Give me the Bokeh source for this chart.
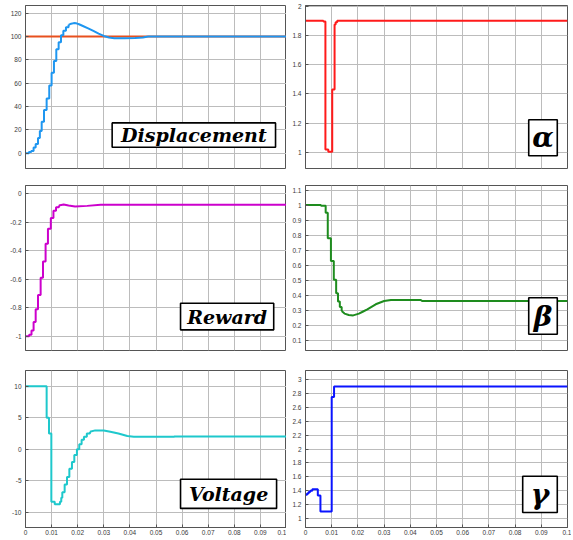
from bokeh.plotting import figure
from bokeh.layouts import column, row
from bokeh.models import FixedTicker, BoxAnnotation, Label, Range1d
from bokeh.embed import file_html
from bokeh.resources import INLINE

# ---------------- data ----------------
x_ticks = [0, 0.01, 0.02, 0.03, 0.04, 0.05, 0.06, 0.07, 0.08, 0.09, 0.1]
x_tick_labels = ["0", "0.01", "0.02", "0.03", "0.04", "0.05", "0.06", "0.07", "0.08", "0.09", "0.1"]

# displacement (stepped until index disp_k, smooth afterwards)
disp_t = [0, 0.0013, 0.0022, 0.0031, 0.0039, 0.0048, 0.0055, 0.0062, 0.0071, 0.0081, 0.0091,
          0.0100, 0.0109, 0.0118, 0.0127, 0.0136, 0.0145, 0.0155, 0.0165, 0.0175, 0.0185,
          0.0195, 0.0205, 0.022, 0.024, 0.026, 0.028, 0.030, 0.032, 0.034, 0.038, 0.042,
          0.045, 0.047, 0.1]
disp_v = [0, 1, 2, 5, 8, 13, 19, 27, 37, 47, 58, 69, 79, 89, 95, 101, 105, 108, 110, 111,
          111.5, 111.3, 110.5, 109, 107, 104.8, 102.5, 100.5, 99.2, 98.6, 98.5, 98.8,
          99.2, 100, 100]
disp_k = 18
ref_t = [0, 0.1]
ref_v = [100, 100]
disp_yticks = [0, 20, 40, 60, 80, 100, 120]
disp_ylabels = ["0", "20", "40", "60", "80", "100", "120"]

alpha_t = [0, 0.0068, 0.0076, 0.0087, 0.0102, 0.0111, 0.0115, 0.0121, 0.1]
alpha_v = [1.9, 1.895, 1.02, 1.005, 1.43, 1.875, 1.89, 1.9, 1.9]
alpha_yticks = [1, 1.2, 1.4, 1.6, 1.8, 2]
alpha_ylabels = ["1", "1.2", "1.4", "1.6", "1.8", "2"]

rew_t = [0, 0.0014, 0.0023, 0.0031, 0.0039, 0.0048, 0.0058, 0.0067, 0.0077, 0.0086, 0.0097,
         0.0107, 0.0117, 0.0128, 0.0146, 0.0165, 0.019, 0.0236, 0.0288, 0.1]
rew_v = [-1.0, -0.99, -0.96, -0.90, -0.81, -0.71, -0.59, -0.475, -0.35, -0.246, -0.17,
         -0.12, -0.094, -0.082, -0.075, -0.082, -0.089, -0.085, -0.077, -0.077]
rew_k = 13
rew_yticks = [-1, -0.8, -0.6, -0.4, -0.2, 0]
rew_ylabels = ["-1", "-0.8", "-0.6", "-0.4", "-0.2", "0"]

beta_t = [0, 0.0059, 0.0077, 0.0085, 0.0097, 0.0108, 0.0117, 0.0124, 0.0131, 0.0138, 0.0149,
          0.0165, 0.0182, 0.0204, 0.022, 0.0236, 0.0268, 0.030, 0.0326, 0.0440, 0.0445, 0.1]
beta_v = [1.0, 0.995, 0.949, 0.778, 0.627, 0.502, 0.411, 0.356, 0.32, 0.293, 0.276,
          0.267, 0.264, 0.276, 0.29, 0.304, 0.338, 0.36, 0.367, 0.367, 0.36, 0.36]
beta_k = 9
beta_yticks = [0.1, 0.2, 0.3, 0.4, 0.5, 0.6, 0.7, 0.8, 0.9, 1, 1.1]
beta_ylabels = ["0.1", "0.2", "0.3", "0.4", "0.5", "0.6", "0.7", "0.8", "0.9", "1", "1.1"]

volt_t = [0, 0.0081, 0.0090, 0.0099, 0.0112, 0.0132, 0.0137, 0.0141, 0.0150, 0.0159, 0.0168,
          0.0178, 0.0187, 0.0197, 0.0206, 0.0215, 0.0224, 0.0235, 0.0247, 0.0267, 0.030,
          0.0325, 0.0356, 0.039, 0.0415, 0.057, 0.0572, 0.1]
volt_v = [10, 5, 2.5, -8.3, -8.7, -8.3, -7.7, -6.8, -5.6, -4.4, -3.1, -2.0, -0.9, 0.0, 0.8,
          1.5, 2.0, 2.5, 2.8, 3.0, 3.0, 2.8, 2.5, 2.1, 2.0, 2.0, 2.05, 2.05]
volt_k = 18
volt_yticks = [-10, -5, 0, 5, 10]
volt_ylabels = ["-10", "-5", "0", "5", "10"]

gam_t = [0, 0.0006, 0.0012, 0.0018, 0.0026, 0.0047, 0.0057, 0.0100, 0.0109, 0.1]
gam_v = [1.34, 1.36, 1.38, 1.40, 1.42, 1.33, 1.10, 2.75, 2.90, 2.90]
gam_yticks = [1, 1.2, 1.4, 1.6, 1.8, 2, 2.2, 2.4, 2.6, 2.8, 3]
gam_ylabels = ["1", "1.2", "1.4", "1.6", "1.8", "2", "2.2", "2.4", "2.6", "2.8", "3"]

titles = ["Displacement", "\u03b1", "Reward", "\u03b2", "Voltage", "\u03b3"]

# ---------------- styling helpers ----------------
TICK_FONT = "Liberation Sans"
TICK_SIZE = "6.5px"
TICK_COLOR = "#3a3a3a"


def make_fig(ylim, yticks, ylabels, left_col, row_idx):
    if left_col:
        mbl, fw, mbr = 25, 261, 0
    else:
        mbl, fw, mbr = 19, 262, 4
    if row_idx == 0:
        mbt, fh, mbb = 5, 163, 8
    elif row_idx == 1:
        mbt, fh, mbb = 9, 165, 10
    else:
        mbt, fh, mbb = 10, 157, 9
    p = figure(frame_width=fw, frame_height=fh, output_backend="svg", toolbar_location=None,
               x_range=Range1d(0, 0.1), y_range=Range1d(*ylim),
               min_border_left=mbl, min_border_right=mbr, min_border_top=mbt,
               min_border_bottom=mbb)
    p.background_fill_color = "white"
    p.border_fill_color = "white"
    p.outline_line_color = "#555555"
    p.outline_line_width = 1

    xa = p.xaxis[0]
    xa.ticker = FixedTicker(ticks=x_ticks)
    xa.major_label_overrides = dict(zip(x_ticks, x_tick_labels))
    xa.major_tick_in = 3
    xa.major_tick_out = 0
    xa.minor_tick_line_color = None
    xa.major_label_standoff = 2
    xa.axis_line_color = "#555555"
    xa.major_tick_line_color = "#555555"
    xa.major_label_text_font = TICK_FONT
    xa.major_label_text_font_size = TICK_SIZE
    xa.major_label_text_color = TICK_COLOR
    if row_idx < 2:
        xa.visible = False

    ya = p.yaxis[0]
    ya.ticker = FixedTicker(ticks=yticks)
    ya.major_label_overrides = dict(zip(yticks, ylabels))
    ya.major_tick_in = 3
    ya.major_tick_out = 0
    ya.minor_tick_line_color = None
    ya.major_label_standoff = 4
    ya.axis_line_color = "#555555"
    ya.major_tick_line_color = "#555555"
    ya.major_label_text_font = TICK_FONT
    ya.major_label_text_font_size = TICK_SIZE
    ya.major_label_text_color = TICK_COLOR

    p.xgrid.ticker = FixedTicker(ticks=x_ticks)
    p.ygrid.ticker = FixedTicker(ticks=yticks)
    for g in (p.xgrid, p.ygrid):
        g.grid_line_color = "#bcbcbc"
        g.grid_line_width = 1
    return p


def add_box(p, left, right, bottom, top, text, size):
    p.add_layout(BoxAnnotation(left=left, right=right, bottom=bottom, top=top,
                               fill_color="white", fill_alpha=1.0,
                               line_color="black", line_width=1.6, line_alpha=1.0))
    p.add_layout(Label(x=(left + right) / 2, y=(bottom + top) / 2, text=text,
                       text_align="center", text_baseline="middle",
                       text_font="DejaVu Serif", text_font_style="bold italic",
                       text_font_size=size, text_color="black"))


def draw(p, t, v, k, color):
    # stepped part (sampled controller output), then the smooth settling part
    p.step(t[:k + 1], v[:k + 1], mode="after", line_color=color, line_width=2)
    p.line(t[k:], v[k:], line_color=color, line_width=2)


# ---------------- panels ----------------
p1 = make_fig((-13.1, 126.6), disp_yticks, disp_ylabels, True, 0)
p1.line(ref_t, ref_v, line_color="#E8501E", line_width=2)
draw(p1, disp_t, disp_v, disp_k, "#1E96F0")
add_box(p1, 0.0332, 0.0958, 5.1, 26.0, titles[0], "19px")

p2 = make_fig((0.89, 2.005), alpha_yticks, alpha_ylabels, False, 0)
p2.step(alpha_t, alpha_v, mode="after", line_color="#FF1A1A", line_width=2)
add_box(p2, 0.0852, 0.0961, 0.977, 1.223, titles[1], "28px")

p3 = make_fig((-1.1, 0.058), rew_yticks, rew_ylabels, True, 1)
draw(p3, rew_t, rew_v, rew_k, "#CC00CC")
add_box(p3, 0.0594, 0.0951, -0.955, -0.768, titles[2], "19px")

p4 = make_fig((0.03, 1.13), beta_yticks, beta_ylabels, False, 1)
draw(p4, beta_t, beta_v, beta_k, "#1E8C1E")
add_box(p4, 0.0852, 0.0961, 0.138, 0.382, titles[3], "28px")

p5 = make_fig((-12.4, 12.5), volt_yticks, volt_ylabels, True, 2)
draw(p5, volt_t, volt_v, volt_k, "#1EC8CC")
add_box(p5, 0.0594, 0.0962, -9.37, -4.74, titles[4], "19px")

p6 = make_fig((0.87, 3.13), gam_yticks, gam_ylabels, False, 2)
p6.step(gam_t, gam_v, mode="after", line_color="#0A14FF", line_width=2)
add_box(p6, 0.0829, 0.0961, 1.085, 1.607, titles[5], "28px")

layout = column(row(p1, p2), row(p3, p4), row(p5, p6))

open("out.html", "w").write(file_html(layout, INLINE))
